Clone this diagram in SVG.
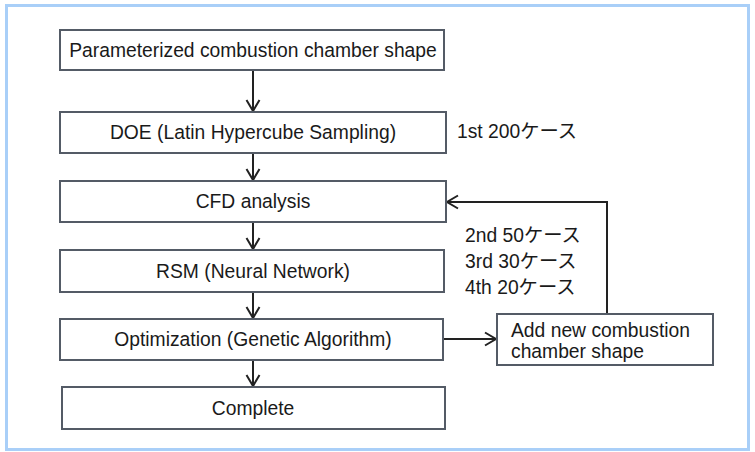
<svg xmlns="http://www.w3.org/2000/svg" width="755" height="452" viewBox="0 0 755 452">
<defs>
<style>
.box{fill:#fff;stroke:#545b66;stroke-width:2}
.t{font-family:"Liberation Sans",Arial,"Noto Sans CJK JP",sans-serif;font-size:19.3px;fill:#1a1a1a}
.c{text-anchor:middle}
.ln{fill:none;stroke:#222;stroke-width:2}
</style>
<marker id="ah" markerWidth="16" markerHeight="16" refX="12" refY="8" orient="auto" markerUnits="userSpaceOnUse">
<path d="M1,1.5 L12,8 L1,14.5" fill="none" stroke="#222" stroke-width="2"/>
</marker>
</defs>
<rect x="0" y="0" width="755" height="452" fill="#fff"/>
<rect x="6.5" y="5.5" width="742" height="444" fill="none" stroke="#a9cff8" stroke-width="3"/>
<g id="connectors">
<line class="ln" x1="253" y1="70" x2="253" y2="111" marker-end="url(#ah)"/>
<line class="ln" x1="253" y1="153" x2="253" y2="180" marker-end="url(#ah)"/>
<line class="ln" x1="253" y1="222" x2="253" y2="249" marker-end="url(#ah)"/>
<line class="ln" x1="253" y1="292" x2="253" y2="318" marker-end="url(#ah)"/>
<line class="ln" x1="253" y1="360" x2="253" y2="386" marker-end="url(#ah)"/>
<line class="ln" x1="443" y1="339" x2="496" y2="339" marker-end="url(#ah)"/>
<polyline class="ln" points="607,314 607,202 447,202" marker-end="url(#ah)"/>
</g>
<g id="n1"><rect class="box" x="60" y="30" width="384" height="40"/><text class="t c" x="253" y="57">Parameterized combustion chamber shape</text></g>
<g id="n2"><rect class="box" x="60" y="112" width="386" height="41"/><text class="t c" x="253" y="139">DOE (Latin Hypercube Sampling)</text></g>
<g id="n3"><rect class="box" x="60" y="181" width="386" height="41"/><text class="t c" x="253" y="208">CFD analysis</text></g>
<g id="n4"><rect class="box" x="60" y="250" width="384" height="42"/><text class="t c" x="253" y="278">RSM (Neural Network)</text></g>
<g id="n5"><rect class="box" x="60" y="319" width="383" height="41"/><text class="t c" x="253" y="346">Optimization (Genetic Algorithm)</text></g>
<g id="n6"><rect class="box" x="62" y="387" width="383" height="42"/><text class="t c" x="253" y="415">Complete</text></g>
<g id="n7"><rect class="box" x="497" y="314" width="216" height="51"/><text class="t" x="511" y="337">Add new combustion</text><text class="t" x="511" y="358">chamber shape</text></g>
<g id="labels">
<text class="t" x="457" y="138">1st 200ケース</text>
<text class="t" x="465" y="242">2nd 50ケース</text>
<text class="t" x="465" y="268">3rd 30ケース</text>
<text class="t" x="465" y="294">4th 20ケース</text>
</g>
</svg>
